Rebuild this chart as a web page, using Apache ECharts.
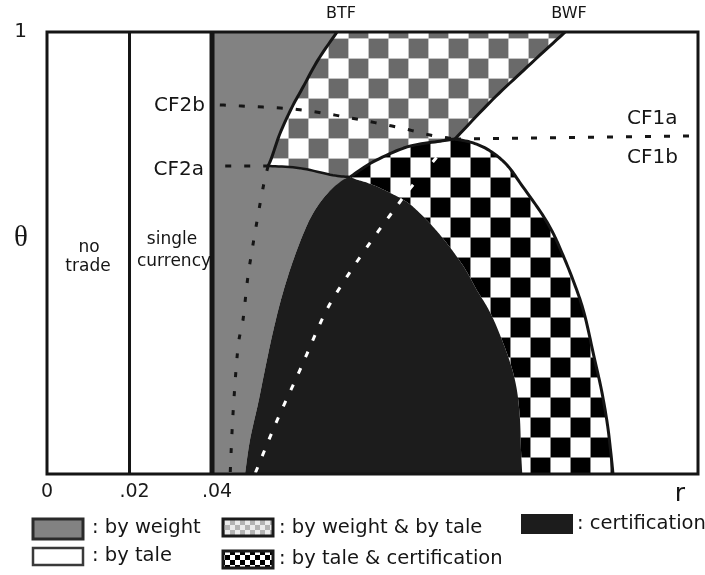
<!DOCTYPE html>
<html>
<head>
<meta charset="utf-8">
<script src="https://cdn.jsdelivr.net/npm/echarts@6/dist/echarts.min.js"></script>
<style>
  html, body { margin: 0; padding: 0; background: #fff; }
  #chart { width: 705px; height: 575px; }
</style>
</head>
<body>
<div id="chart"></div>
<script>
// ---- axes ----
const R_MAX = 0.1578;
const xTickValues = [0, 0.02, 0.04];
const xTickLabels = ['0', '.02', '.04'];
const yTickValues = [1];
const yTickLabels = ['1'];

// vertical regime borders: no trade | single currency | commodity money
const regimeLines = [0.02, 0.04];

// BTF frontier, from the top edge down to the CF2a kink
const btfR = [0.0703, 0.0657, 0.0621, 0.0594, 0.0565, 0.0545, 0.0536];
const btfT = [1.000, 0.937, 0.876, 0.830, 0.771, 0.717, 0.697];

// lower edge of the weight & tale zone, CF2a kink to the certification cap
const lowR = [0.0536, 0.0613, 0.0693, 0.0735];
const lowT = [0.697, 0.692, 0.676, 0.672];

// outer edge of the tale & certification zone (over the cap and down to r axis)
const capR = [0.0735, 0.0790, 0.0873, 0.0953, 0.0989, 0.1033, 0.1074, 0.1115, 0.1154, 0.1195,
              0.1221, 0.1242, 0.1275, 0.1302, 0.1326, 0.1344, 0.1358, 0.1366, 0.1372];
const capT = [0.672, 0.706, 0.740, 0.753, 0.758, 0.749, 0.731, 0.699, 0.649, 0.595,
              0.555, 0.514, 0.439, 0.364, 0.265, 0.190, 0.115, 0.054, 0.000];
const CAP_PEAK = 4;

// BWF frontier, from the cap peak up to the top edge
const bwfR = [0.0989, 0.1079, 0.1164, 0.1256];
const bwfT = [0.758, 0.846, 0.921, 1.000];

// certification-only zone, left foot -> top -> right foot
const certR = [0.0480, 0.0492, 0.0512, 0.0528, 0.0545, 0.0565, 0.0589, 0.0618, 0.0645, 0.0681,
               0.0725, 0.0754, 0.0790, 0.0832, 0.0873, 0.0904, 0.0936, 0.0965, 0.0994, 0.1018,
               0.1042, 0.1067, 0.1086, 0.1103, 0.1118, 0.1130, 0.1139, 0.1144, 0.1147, 0.1149,
               0.1152];
const certT = [0.000, 0.077, 0.161, 0.235, 0.310, 0.387, 0.462, 0.536, 0.590, 0.636,
               0.669, 0.665, 0.654, 0.636, 0.615, 0.590, 0.559, 0.527, 0.491, 0.457,
               0.416, 0.378, 0.342, 0.303, 0.265, 0.229, 0.190, 0.152, 0.115, 0.054,
               0.000];
const CERT_TOP = 10;

// critical-frontier curves
const cf2bR = [0.0419, 0.0565, 0.0613, 0.0710, 0.0848, 0.0928, 0.0989];
const cf2bT = [0.835, 0.828, 0.824, 0.810, 0.785, 0.767, 0.758];
const cf1R = [0.0989, 0.1578];
const cf1T = [0.758, 0.765];
const cf2aR = [0.0432, 0.0536];
const cf2aT = [0.697, 0.697];
const cf2aCurveR = [0.0536, 0.0524, 0.0504, 0.0487, 0.0475, 0.0463, 0.0451, 0.0444];
const cf2aCurveT = [0.697, 0.649, 0.545, 0.446, 0.348, 0.287, 0.138, 0.000];
const cf1CurveR = [0.0970, 0.0945, 0.0887, 0.0832, 0.0776, 0.0722, 0.0674, 0.0613, 0.0558, 0.0504];
const cf1CurveT = [0.749, 0.717, 0.654, 0.586, 0.514, 0.439, 0.364, 0.235, 0.122, 0.000];

// ---- region outlines as chains of boundary pieces ----
const rev = a => a.slice().reverse();
const piece = (rs, ts) => rs.map((r, i) => [r, ts[i]]);

const weightPieces = [
  piece([0.04, 0.04], [0, 1]),
  piece(btfR, btfT),
  piece(lowR, lowT),
  piece(rev(certR.slice(0, CERT_TOP + 1)), rev(certT.slice(0, CERT_TOP + 1)))
];
const weightTalePieces = [
  piece(rev(bwfR), rev(bwfT)),
  piece(rev(capR.slice(0, CAP_PEAK + 1)), rev(capT.slice(0, CAP_PEAK + 1))),
  piece(rev(lowR), rev(lowT)),
  piece(rev(btfR), rev(btfT))
];
const taleCertPieces = [
  piece(capR.slice(0, CAP_PEAK + 1), capT.slice(0, CAP_PEAK + 1)),
  piece(capR.slice(CAP_PEAK), capT.slice(CAP_PEAK)),
  piece(rev(certR.slice(CERT_TOP)), rev(certT.slice(CERT_TOP)))
];
const certPieces = [piece(certR, certT)];

// Catmull-Rom rendering of a pixel chain so boundaries are drawn as smooth curves
function smoothChain(p, steps) {
  if (p.length < 3) return p.slice();
  const out = [p[0]];
  for (let i = 0; i < p.length - 1; i++) {
    const p0 = p[i - 1] || p[i], p1 = p[i], p2 = p[i + 1], p3 = p[i + 2] || p[i + 1];
    for (let s = 1; s <= steps; s++) {
      const t = s / steps, t2 = t * t, t3 = t2 * t;
      const f = k => 0.5 * ((2 * p1[k]) + (-p0[k] + p2[k]) * t +
        (2 * p0[k] - 5 * p1[k] + 4 * p2[k] - p3[k]) * t2 +
        (-p0[k] + 3 * p1[k] - 3 * p2[k] + p3[k]) * t3);
      out.push([f(0), f(1)]);
    }
  }
  return out;
}
function toPixels(api, pieces) {
  let pts = [];
  pieces.forEach(pc => { pts = pts.concat(smoothChain(pc.map(v => api.coord(v)), 10)); });
  return pts;
}

// ---- fills ----
function checker(cell, ox, oy, dark, light, line) {
  const cv = document.createElement('canvas');
  cv.width = cv.height = cell * 2;
  const g = cv.getContext('2d');
  g.fillStyle = light;
  g.fillRect(0, 0, cell * 2, cell * 2);
  g.fillStyle = dark;
  for (let i = -2; i <= 2; i++) {
    for (let j = -2; j <= 2; j++) {
      if ((i + j) % 2 === 0) g.fillRect(ox + i * cell, oy + j * cell, cell, cell);
    }
  }
  if (line) {
    g.fillStyle = line;
    for (let k = -2; k <= 2; k++) {
      g.fillRect(ox + k * cell, 0, 1, cell * 2);
      g.fillRect(0, oy + k * cell, cell * 2, 1);
    }
  }
  return { image: cv, repeat: 'repeat' };
}

const GRAY = '#828282';
const CERT = '#1c1c1c';
const INK = '#151515';
const grayChecker = checker(20, 8, 38, '#6a6a6a', '#ffffff', '#c4c4c4');
const blackChecker = checker(20, 10, 17, '#000000', '#ffffff', '#8a8a8a');
const grayCheckerSmall = checker(5, 0, 0, '#b4b4b4', '#ececec', null);
const blackCheckerSmall = checker(5, 0, 0, '#000000', '#ffffff', null);

// ---- series helpers ----
function area(name, pieces, fill, z) {
  return {
    type: 'custom', name, z, data: [[0, 0]], silent: true,
    renderItem: (p, api) => ({
      type: 'polygon',
      shape: { points: toPixels(api, pieces) },
      style: { fill: fill, stroke: null }
    })
  };
}
function curve(name, rs, ts, stroke, width, dash, z) {
  return {
    type: 'custom', name, z, data: [[0, 0]], silent: true,
    renderItem: (p, api) => ({
      type: 'polyline',
      shape: { points: toPixels(api, [piece(rs, ts)]) },
      style: { stroke: stroke, lineWidth: width, lineDash: dash || null, fill: null, lineCap: 'butt', lineJoin: 'round' }
    })
  };
}
function curveChain(name, pieces, stroke, width, z) {
  return {
    type: 'custom', name, z, data: [[0, 0]], silent: true,
    renderItem: (p, api) => ({
      type: 'polyline',
      shape: { points: toPixels(api, pieces) },
      style: { stroke: stroke, lineWidth: width, fill: null, lineJoin: 'round' }
    })
  };
}

const series = [
  area('by weight', weightPieces, GRAY, 2),
  area('by weight & by tale', weightTalePieces, grayChecker, 3),
  area('by tale & certification', taleCertPieces, blackChecker, 3),
  area('certification', certPieces, CERT, 4),
  curve('BTF', btfR, btfT, INK, 3, null, 6),
  curve('CF2a edge', lowR, lowT, INK, 2.5, null, 6),
  curveChain('cap', taleCertPieces.slice(0, 2), INK, 3, 6),
  curve('BWF', bwfR, bwfT, INK, 3, null, 6),
  curve('CF2b', cf2bR, cf2bT, INK, 3, [6, 13], 7),
  curve('CF1', cf1R, cf1T, INK, 3, [6, 13], 7),
  curve('CF2a', cf2aR, cf2aT, INK, 3, [6, 13], 7),
  curve('CF2a lower', cf2aCurveR, cf2aCurveT, INK, 3, [5, 14], 7),
  curve('CF1 lower', cf1CurveR, cf1CurveT, '#ffffff', 3, [6, 12], 7),
  curve('r .02', [regimeLines[0], regimeLines[0]], [0, 1], INK, 3, null, 8),
  curve('r .04', [regimeLines[1], regimeLines[1]], [0, 1], INK, 5, null, 8),
  {
    type: 'custom', name: 'frame', z: 9, data: [[0, 0]], silent: true,
    renderItem: (p, api) => ({
      type: 'polygon',
      shape: { points: [[0, 0], [R_MAX, 0], [R_MAX, 1], [0, 1]].map(v => api.coord(v)) },
      style: { fill: null, stroke: INK, lineWidth: 3 }
    })
  }
];

// ---- annotations and key ----
const FONT = '"DejaVu Sans", sans-serif';
function txt(text, x, y, size, align, color, family) {
  return {
    type: 'text', x, y, z: 20, silent: true,
    style: {
      text, font: size + 'px ' + (family || FONT), fill: color || INK,
      textAlign: align || 'center', textVerticalAlign: 'middle'
    }
  };
}
function box(x, y, w, h, fill, stroke, lw) {
  return {
    type: 'rect', z: 20, silent: true,
    shape: { x, y, width: w, height: h },
    style: { fill, stroke, lineWidth: lw }
  };
}

const graphic = [
  txt('BTF', 341, 14, 16),
  txt('BWF', 569, 14, 16),
  txt('CF2b', 205, 106, 20, 'right'),
  txt('CF2a', 204, 170, 20, 'right'),
  txt('CF1a', 627, 119, 20, 'left'),
  txt('CF1b', 627, 158, 20, 'left'),
  txt('no', 89, 248, 17),
  txt('trade', 88, 267, 17),
  txt('single', 172, 240, 17),
  txt('currency', 174, 262, 17),
  txt('\u03b8', 21, 238, 29, 'center', INK, '"Liberation Serif", serif'),
  txt('r', 680, 494, 25),
  // key
  box(33, 519, 50, 20, GRAY, '#2a2a2a', 3),
  txt(': by weight', 92, 528, 19.5, 'left'),
  box(33, 548, 50, 17, '#ffffff', '#3a3a3a', 2.5),
  txt(': by tale', 92, 556, 19.5, 'left'),
  box(223, 519, 50, 17, grayCheckerSmall, '#1a1a1a', 3),
  txt(': by weight & by tale', 279, 528, 19.5, 'left'),
  box(223, 551, 50, 17, blackCheckerSmall, '#1a1a1a', 3),
  txt(': by tale & certification', 279, 559, 19.5, 'left'),
  box(521, 514, 52, 20, CERT, null, 0),
  txt(': certification', 577, 524, 19.5, 'left')
];

const chart = echarts.init(document.getElementById('chart'), null, { renderer: 'canvas' });
chart.setOption({
  backgroundColor: '#ffffff',
  animation: false,
  grid: { left: 47, right: 7, top: 32, bottom: 101, containLabel: false, outerBoundsMode: 'none' },
  xAxis: {
    type: 'value', min: 0, max: R_MAX, interval: 0.02,
    axisLine: { show: false }, axisTick: { show: false }, splitLine: { show: false },
    axisLabel: {
      margin: 9, showMaxLabel: false,
      fontFamily: FONT, fontSize: 19, color: '#1a1a1a',
      formatter: v => {
        const i = xTickValues.findIndex(t => Math.abs(t - v) < 1e-9);
        if (i < 0) return '';
        return i === 0 ? xTickLabels[i] : '{s|' + xTickLabels[i] + '}';
      },
      rich: { s: { fontFamily: FONT, fontSize: 19, color: '#1a1a1a', padding: [0, 0, 0, 10] } }
    }
  },
  yAxis: {
    type: 'value', min: 0, max: 1, interval: 1,
    axisLine: { show: false }, axisTick: { show: false }, splitLine: { show: false },
    axisLabel: {
      margin: 20, fontFamily: FONT, fontSize: 20, color: '#1a1a1a',
      formatter: v => {
        const i = yTickValues.findIndex(t => Math.abs(t - v) < 1e-9);
        return i < 0 ? '' : yTickLabels[i];
      }
    }
  },
  series,
  graphic
});
</script>
</body>
</html>
